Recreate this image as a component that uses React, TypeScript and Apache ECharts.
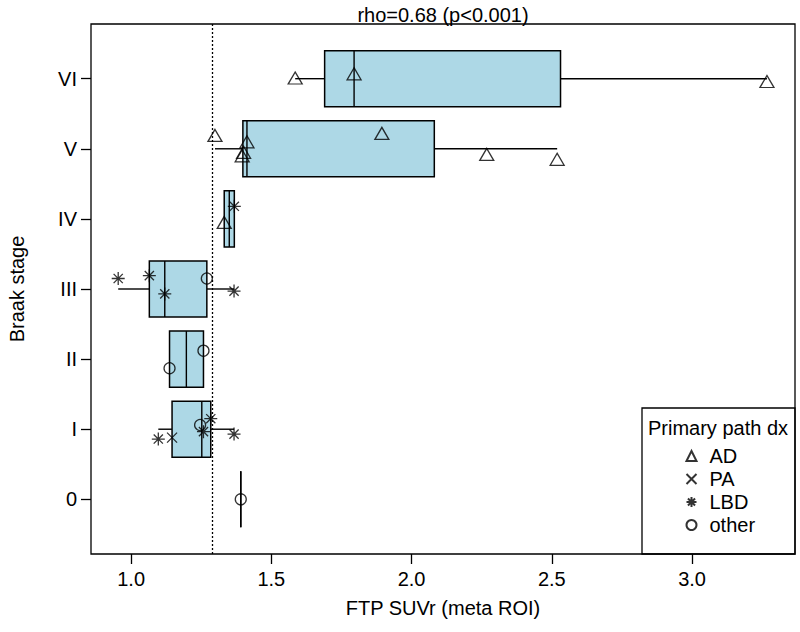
import React, { useEffect, useRef } from "react";
import * as echarts from "echarts";

// ---- data ----
const stageLabels = ["0", "I", "II", "III", "IV", "V", "VI"];
const stageTicks = [0, 1, 2, 3, 4, 5, 6];
const xTicks = [1.0, 1.5, 2.0, 2.5, 3.0];

// box statistics per stage (min, lower hinge, median, upper hinge, max)
const boxMin = [1.391, 1.097, 1.137, 0.954, 1.332, 1.299, 1.585];
const boxQ1 = [1.391, 1.146, 1.137, 1.065, 1.332, 1.3985, 1.69];
const boxMed = [1.391, 1.252, 1.197, 1.12, 1.35, 1.413, 1.795];
const boxQ3 = [1.391, 1.284, 1.258, 1.27, 1.368, 2.081, 2.531];
const boxMax = [1.391, 1.367, 1.258, 1.367, 1.368, 2.519, 3.267];

// individual points: value, stage index, vertical jitter (stage units)
const adX = [1.585, 1.795, 3.267, 1.299, 1.413, 1.401, 1.396, 1.894, 2.268, 2.519, 1.332];
const adStage = [6, 6, 6, 5, 5, 5, 5, 5, 5, 5, 4];
const adJitter = [0.01, 0.07, -0.04, 0.19, 0.1, -0.05, -0.1, 0.22, -0.08, -0.15, -0.05];

const paX = [1.146];
const paStage = [1];
const paJitter = [-0.12];

const lbdX = [1.368, 0.954, 1.065, 1.12, 1.367, 1.097, 1.258, 1.284, 1.367];
const lbdStage = [4, 3, 3, 3, 3, 1, 1, 1, 1];
const lbdJitter = [0.18, 0.15, 0.19, -0.07, -0.03, -0.14, -0.035, 0.15, -0.07];

const otherX = [1.27, 1.137, 1.258, 1.246, 1.391];
const otherStage = [3, 2, 2, 1, 0];
const otherJitter = [0.15, -0.13, 0.12, 0.06, 0];

const cutoff = 1.29;

const FONT = "'Liberation Sans', Arial, Helvetica, sans-serif";
const FS = 20;

const pts = (xs: number[], st: number[], jt: number[]) =>
  xs.map((x, i) => [x, st[i] + jt[i]]);

const hollow = { color: "none", borderColor: "#000", borderWidth: 1.3 };

export default function App() {
  const ref = useRef<HTMLDivElement>(null);
  useEffect(() => {
    document.body.style.margin = "0";
    const chart = echarts.init(ref.current!, null, { renderer: "svg" });
    const boxData = stageTicks.map((s, i) => [s, boxMin[i], boxQ1[i], boxMed[i], boxQ3[i], boxMax[i]]);
    const option: any = {
      animation: false,
      textStyle: { fontFamily: FONT },
      grid: {
        left: 91,
        right: 5,
        top: 24,
        bottom: 78,
        show: true,
        borderColor: "#000",
        borderWidth: 1.3,
        backgroundColor: "transparent",
        containLabel: false,
        outerBoundsMode: "none",
      },
      xAxis: {
        type: "value",
        min: 0.857,
        max: 3.367,
        name: "FTP SUVr (meta ROI)",
        nameLocation: "middle",
        nameGap: 44,
        nameTextStyle: { fontSize: FS, color: "#000", fontFamily: FONT },
        axisLine: { show: false, onZero: false },
        splitLine: { show: false },
        axisTick: { show: true, length: 10, customValues: xTicks, lineStyle: { color: "#000", width: 1.3 } },
        axisLabel: {
          customValues: xTicks,
          formatter: (v: number) => v.toFixed(1),
          fontSize: FS,
          color: "#000",
          margin: 15,
          fontFamily: FONT,
        },
      },
      yAxis: {
        type: "value",
        min: -0.78,
        max: 6.78,
        name: "Braak stage",
        nameLocation: "middle",
        nameGap: 64,
        nameRotate: 90,
        nameTextStyle: { fontSize: FS, color: "#000", fontFamily: FONT },
        axisLine: { show: false, onZero: false },
        splitLine: { show: false },
        axisTick: { show: true, length: 10, customValues: stageTicks, lineStyle: { color: "#000", width: 1.3 } },
        axisLabel: {
          customValues: stageTicks,
          formatter: (v: number) => stageLabels[Math.round(v)] ?? "",
          fontSize: FS,
          color: "#000",
          margin: 14,
          fontFamily: FONT,
        },
      },
      legend: {
        data: ["AD", "PA", "LBD", "other"],
        orient: "vertical",
        left: 679,
        top: 441,
        itemWidth: 10,
        itemHeight: 10,
        itemGap: 3,
        z: 60,
        textStyle: { fontSize: FS, color: "#000", fontFamily: FONT, lineHeight: 20, padding: [0, 0, 0, 8] },
        selectedMode: false,
      },
      graphic: [
        {
          type: "text",
          style: {
            text: "rho=0.68 (p<0.001)",
            x: 443,
            y: 15,
            align: "center",
            verticalAlign: "middle",
            fontSize: FS,
            fontFamily: FONT,
            fill: "#000",
          },
        },
        {
          type: "rect",
          shape: { x: 642, y: 408, width: 153, height: 146 },
          style: { fill: "none", stroke: "#000", lineWidth: 1.3 },
          z: 50,
        },
        {
          type: "text",
          style: {
            text: "Primary path dx",
            x: 718,
            y: 428,
            align: "center",
            verticalAlign: "middle",
            fontSize: FS,
            fontFamily: FONT,
            fill: "#000",
          },
          z: 51,
        },
      ],
      series: [
        {
          type: "custom",
          name: "boxes",
          data: boxData,
          encode: { x: [1, 2, 3, 4, 5], y: 0 },
          z: 2,
          renderItem: (params: any, api: any) => {
            const s = api.value(0);
            const mn = api.value(1);
            const q1 = api.value(2);
            const md = api.value(3);
            const q3 = api.value(4);
            const mx = api.value(5);
            const half = 0.4;
            const tl = api.coord([q1, s + half]);
            const br = api.coord([q3, s - half]);
            const mt = api.coord([md, s + half]);
            const mb = api.coord([md, s - half]);
            const pMin = api.coord([mn, s]);
            const pQ1 = api.coord([q1, s]);
            const pQ3 = api.coord([q3, s]);
            const pMax = api.coord([mx, s]);
            const ls = { stroke: "#000", lineWidth: 1.4 };
            const children: any[] = [];
            if (mn < q1)
              children.push({ type: "line", shape: { x1: pMin[0], y1: pMin[1], x2: pQ1[0], y2: pQ1[1] }, style: ls });
            if (mx > q3)
              children.push({ type: "line", shape: { x1: pQ3[0], y1: pQ3[1], x2: pMax[0], y2: pMax[1] }, style: ls });
            children.push({
              type: "rect",
              shape: { x: tl[0], y: tl[1], width: br[0] - tl[0], height: br[1] - tl[1] },
              style: { fill: "#ADD8E6", stroke: "#000", lineWidth: 1.5 },
            });
            children.push({ type: "line", shape: { x1: mt[0], y1: mt[1], x2: mb[0], y2: mb[1] }, style: ls });
            return { type: "group", children };
          },
          markLine: {
            silent: true,
            symbol: "none",
            label: { show: false },
            lineStyle: { color: "#000", type: [2, 2], width: 1.3 },
            data: [{ xAxis: cutoff }],
          },
        },
        {
          type: "scatter",
          name: "AD",
          symbol: "triangle",
          symbolSize: [14, 12],
          itemStyle: hollow,
          data: pts(adX, adStage, adJitter),
          z: 5,
        },
        {
          type: "scatter",
          name: "PA",
          symbol: "path://M0,0L10,10M10,0L0,10",
          symbolSize: 10,
          itemStyle: hollow,
          data: pts(paX, paStage, paJitter),
          z: 5,
        },
        {
          type: "scatter",
          name: "LBD",
          symbol: "path://M0,5L10,5M5,0L5,10M1.46,1.46L8.54,8.54M8.54,1.46L1.46,8.54",
          symbolSize: 13,
          itemStyle: hollow,
          data: pts(lbdX, lbdStage, lbdJitter),
          z: 5,
        },
        {
          type: "scatter",
          name: "other",
          symbol: "circle",
          symbolSize: 11,
          itemStyle: hollow,
          data: pts(otherX, otherStage, otherJitter),
          z: 5,
        },
      ],
    };
    chart.setOption(option);
    return () => chart.dispose();
  }, []);
  return <div ref={ref} style={{ position: "absolute", left: 0, top: 0, width: 800, height: 632 }} />;
}
